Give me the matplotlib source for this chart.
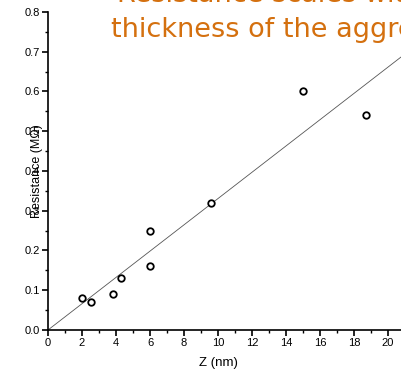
import numpy as np
import matplotlib
matplotlib.use("Agg")
import matplotlib.pyplot as plt
from matplotlib.ticker import MultipleLocator

# data
z_nm = [2.0, 2.5, 3.8, 4.3, 6.0, 6.0, 9.6, 15.0, 18.7]
resistance = [0.08, 0.07, 0.09, 0.13, 0.25, 0.16, 0.32, 0.60, 0.54]

TITLE_1 = "Resistance scales with"
TITLE_2 = "thickness of the aggregate"
ORANGE = "#d4700f"

plt.rcParams["font.family"] = ["Liberation Sans", "DejaVu Sans"]

fig = plt.figure(figsize=(4.01, 3.77), dpi=100)
ax = fig.add_axes([0.1197, 0.1247, 0.8803, 0.8435])

# least squares fit through the origin
x = np.array(z_nm)
y = np.array(resistance)
slope = (x * y).sum() / (x * x).sum()
fit_x = np.array([0.0, 21.0])
ax.plot(fit_x, slope * fit_x, color="#555555", lw=0.6, zorder=2)

ax.scatter(z_nm, resistance, s=22, facecolors="white", edgecolors="black",
           linewidths=1.3, zorder=3)

ax.set_xlim(0, 20.76)
ax.set_ylim(0, 0.8)
ax.xaxis.set_major_locator(MultipleLocator(2))
ax.xaxis.set_minor_locator(MultipleLocator(1))
ax.yaxis.set_major_locator(MultipleLocator(0.1))
ax.yaxis.set_minor_locator(MultipleLocator(0.05))
ax.yaxis.set_major_formatter(plt.FuncFormatter(lambda v, p: f"{v:.1f}"))

for s in ("top", "right"):
    ax.spines[s].set_visible(False)
for s in ("left", "bottom"):
    ax.spines[s].set_linewidth(1.2)
ax.tick_params(which="major", direction="out", length=4, width=1.2,
               labelsize=8, pad=2)
ax.tick_params(which="minor", direction="out", length=2.5, width=1.0)

ax.set_xlabel("Z (nm)", fontsize=9.5)
ax.xaxis.set_label_coords(0.482, -0.085)
ax.set_ylabel("Resistance (M\u03a9)", fontsize=9)
ax.yaxis.set_label_coords(-0.014, 0.5)

fig.text(0.292, 0.995, TITLE_1, color=ORANGE, fontsize=19.5,
         family="DejaVu Sans", va="baseline")
fig.text(0.278, 0.902, TITLE_2, color=ORANGE, fontsize=19.5,
         family="DejaVu Sans", va="baseline")

fig.savefig("out.png", dpi=100)
